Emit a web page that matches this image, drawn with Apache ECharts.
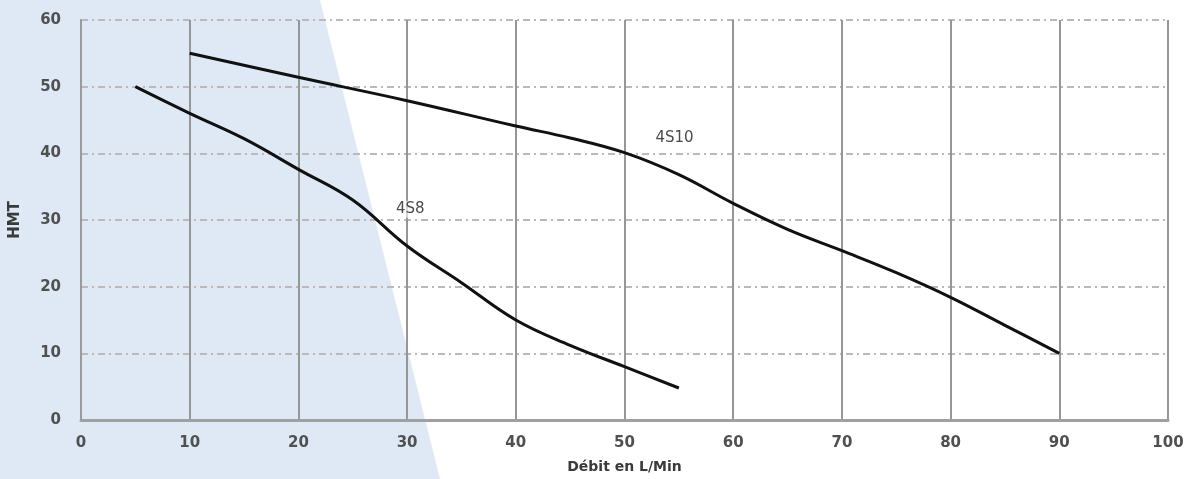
<!DOCTYPE html>
<html>
<head>
<meta charset="utf-8">
<script src="https://cdn.jsdelivr.net/npm/echarts@6/dist/echarts.min.js"></script>
<style>
html,body{margin:0;padding:0;background:#fff;}
#chart{width:1188px;height:479px;}
</style>
</head>
<body>
<div id="chart"></div>
<script>
// Data
var xTicks = [0, 10, 20, 30, 40, 50, 60, 70, 80, 90, 100];
var yTicks = [0, 10, 20, 30, 40, 50, 60];
var series4S8 = [[5, 50], [10, 46], [15, 42.2], [20, 37.6], [25, 33], [30, 26.1], [35, 20.6], [40, 15], [45, 11.2], [50, 8], [55, 4.8]];
var series4S10 = [[10, 55], [20, 51.4], [30, 47.9], [40, 44.1], [45, 42.3], [50, 40.1], [55, 36.8], [60, 32.5], [65, 28.6], [70, 25.4], [75, 22.1], [80, 18.4], [85, 14.2], [90, 10]];
var curveLabels = [{ name: '4S8', coord: [30.3, 31.6] }, { name: '4S10', coord: [54.6, 42.3] }];
var xAxisName = 'Débit en L/Min';
var yAxisName = 'HMT';

var chart = echarts.init(document.getElementById('chart'), null, { renderer: 'canvas' });
var labelFont = { fontFamily: 'DejaVu Sans', fontWeight: 'bold', fontSize: 15, color: '#505050' };

function mkSeries(name, data, lbl) {
  return {
    name: name,
    type: 'line',
    data: data,
    smooth: 0.4,
    symbol: 'none',
    lineStyle: { color: '#111', width: 3 },
    z: 5,
    markPoint: {
      symbol: 'circle', symbolSize: 0,
      data: [{ coord: lbl.coord, value: lbl.name }],
      label: { show: true, position: 'inside', formatter: lbl.name, fontFamily: 'DejaVu Sans', fontSize: 15, color: '#4a4a4a', backgroundColor: 'rgba(255,255,255,0.6)', padding: [1, 2] }
    }
  };
}

chart.setOption({
  animation: false,
  backgroundColor: '#fff',
  graphic: [{
    type: 'polygon', z: -10, silent: true,
    shape: { points: [[0, 0], [320, 0], [440, 479], [0, 479]] },
    style: { fill: '#dfe9f5' }
  }],
  grid: { left: 81, right: 20, top: 20, bottom: 55, containLabel: false },
  xAxis: {
    type: 'value', min: xTicks[0], max: xTicks[xTicks.length - 1], interval: 10,
    name: xAxisName, nameLocation: 'middle', nameGap: 40,
    nameTextStyle: { fontFamily: 'DejaVu Sans', fontWeight: 'bold', fontSize: 14, color: '#3a3a3a' },
    axisLine: { show: true, lineStyle: { color: '#a0a0a0', width: 3 } },
    axisTick: { show: false },
    axisLabel: Object.assign({ margin: 16 }, labelFont),
    splitLine: { show: true, lineStyle: { color: '#969696', width: 2, type: 'solid' } }
  },
  yAxis: {
    type: 'value', min: yTicks[0], max: yTicks[yTicks.length - 1], interval: 10,
    name: yAxisName, nameLocation: 'middle', nameGap: 58, nameRotate: 90,
    nameTextStyle: { fontFamily: 'DejaVu Sans', fontWeight: 'bold', fontSize: 15, color: '#3a3a3a' },
    axisLine: { show: true, lineStyle: { color: '#9a9a9a', width: 2 } },
    axisTick: { show: false },
    axisLabel: Object.assign({ margin: 20 }, labelFont),
    splitLine: { show: true, lineStyle: { color: '#c0b8b8', width: 2, type: [7, 4, 2, 4] } }
  },
  series: [mkSeries('4S8', series4S8, curveLabels[0]), mkSeries('4S10', series4S10, curveLabels[1])]
});
</script>
</body>
</html>
